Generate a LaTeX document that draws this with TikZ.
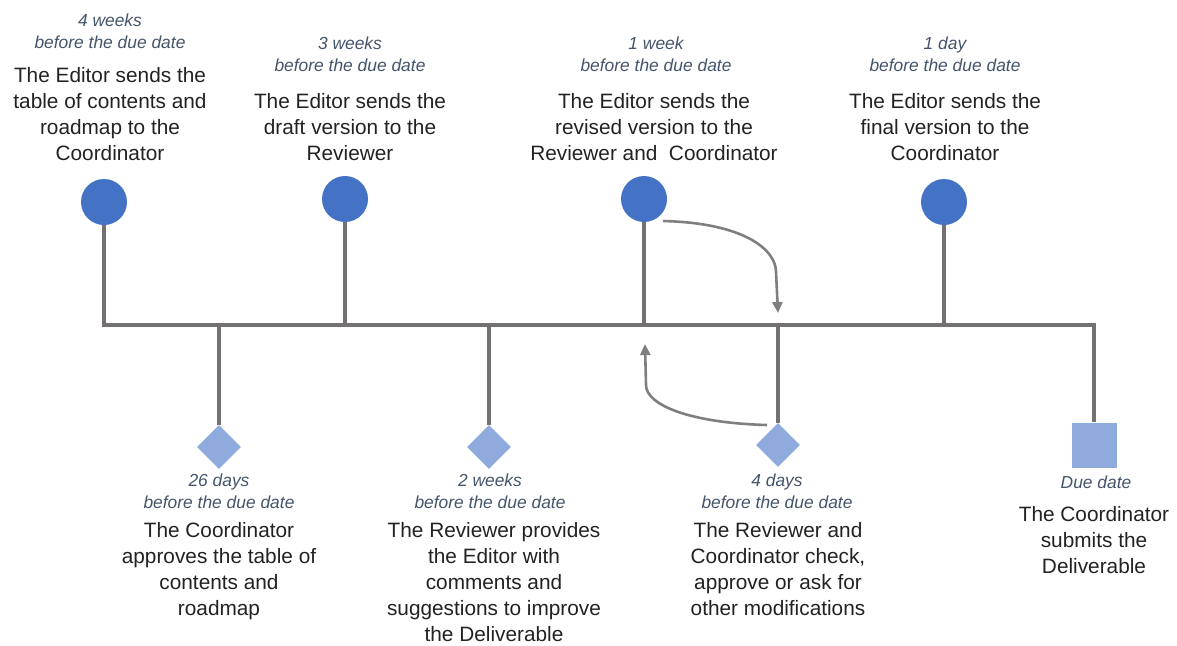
\documentclass[tikz,border=0pt]{standalone}
\usepackage{fontspec}
\setmainfont{Liberation Sans}
\usetikzlibrary{arrows.meta,shapes.geometric}
\definecolor{linegray}{HTML}{767171}
\definecolor{arrowgray}{HTML}{7F7F7F}
\definecolor{dotblue}{HTML}{4472C4}
\definecolor{lightblue}{HTML}{8FAADC}
\definecolor{datecol}{HTML}{44546A}
\definecolor{textcol}{HTML}{222222}
\begin{document}
\begin{tikzpicture}[x=1pt,y=-1pt,
  dot/.style={circle,fill=dotblue,minimum size=46pt,inner sep=0},
  diam/.style={diamond,fill=lightblue,minimum size=44pt,inner sep=0},
  sq/.style={rectangle,fill=lightblue,minimum size=45pt,inner sep=0},
  stem/.style={draw=linegray,line width=4pt},
  loop/.style={draw=arrowgray,line width=2.6pt,-{Triangle[length=11pt,width=10pt]}},
  datelbl/.style={anchor=north,inner sep=0,align=center,text=datecol,font=\fontsize{17.4}{22}\selectfont\itshape},
  desc/.style={anchor=north,inner sep=0,align=center,text=textcol,font=\fontsize{20.8}{26}\selectfont}]
\useasboundingbox (0,0) rectangle (1177,645);
% timeline coordinates
\coordinate (L) at (104,325);
\coordinate (R) at (1094,325);
\coordinate (j2) at (345,325);
\coordinate (j3) at (644,325);
\coordinate (j4) at (944,325);
\coordinate (b1) at (219,325);
\coordinate (b2) at (489,325);
\coordinate (b3) at (778,325);
% markers
\node[dot] (c1) at (104,202) {};
\node[dot] (c2) at (345,199) {};
\node[dot] (c3) at (644,199) {};
\node[dot] (c4) at (944,202) {};
\node[diam] (d1) at (219,447) {};
\node[diam] (d2) at (489,447) {};
\node[diam] (d3) at (778,445) {};
\node[sq] (s1) at (1094,445) {};
% lines
\draw[stem] (c1.south) -- (L) -- (R) -- (s1.north);
\draw[stem] (c2.south) -- (j2);
\draw[stem] (c3.south) -- (j3);
\draw[stem] (c4.south) -- (j4);
\draw[stem] (b1) -- (d1.north);
\draw[stem] (b2) -- (d2.north);
\draw[stem] (b3) -- (d3.north);
% loop arrows
\coordinate (a1s) at (663,221);
\coordinate (a1e) at (778,313);
\coordinate (a2s) at (767,425);
\coordinate (a2e) at (645,344);
\draw[loop] (a1s) .. controls (745,223) and (776,250) .. (776,272) -- (a1e);
\draw[loop] (a2s) .. controls (690,423) and (646,405) .. (646,385) -- (a2e);
% top labels
\node[datelbl] (t1d) at (110,13.5) {4 weeks\\before the due date};
\node[desc] (t1) at (110,67) {The Editor sends the\\table of contents and\\roadmap to the\\Coordinator};
\node[datelbl] (t2d) at (350,36.5) {3 weeks\\before the due date};
\node[desc] (t2) at (350,93) {The Editor sends the\\draft version to the\\Reviewer};
\node[datelbl] (t3d) at (656,36.5) {1 week\\before the due date};
\node[desc] (t3) at (654,93) {The Editor sends the\\revised version to the\\Reviewer and~~Coordinator};
\node[datelbl] (t4d) at (945,36.5) {1 day\\before the due date};
\node[desc] (t4) at (945,93) {The Editor sends the\\final version to the\\Coordinator};
% bottom labels
\node[datelbl] (u1d) at (219,473.5) {26 days\\before the due date};
\node[desc] (u1) at (219,522) {The Coordinator\\approves the table of\\contents and\\roadmap};
\node[datelbl] (u2d) at (490,473.5) {2 weeks\\before the due date};
\node[desc] (u2) at (494,522) {The Reviewer provides\\the Editor with\\comments and\\suggestions to improve\\the Deliverable};
\node[datelbl] (u3d) at (777,473.5) {4 days\\before the due date};
\node[desc] (u3) at (778,522) {The Reviewer and\\Coordinator check,\\approve or ask for\\other modifications};
\node[datelbl] (u4d) at (1096,475.5) {Due date};
\node[desc] (u4) at (1094,506) {The Coordinator\\submits the\\Deliverable};
\end{tikzpicture}
\end{document}
